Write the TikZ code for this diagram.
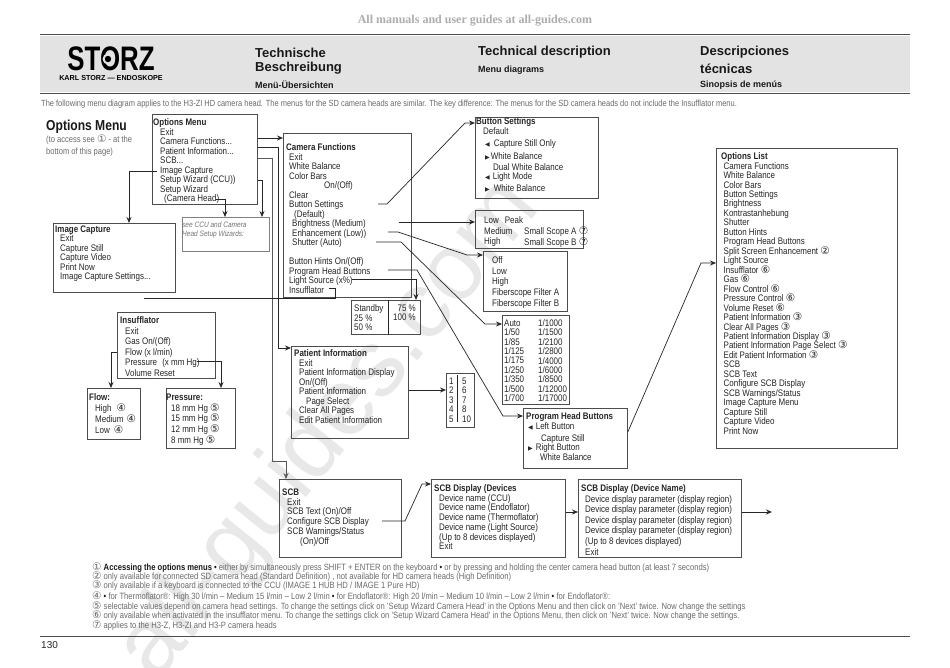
\documentclass[tikz,border=0pt]{standalone}
\usepackage{fontspec}
\setmainfont[FakeStretch=0.84]{Liberation Sans}
\newfontfamily\headfont{Liberation Sans}
\newfontfamily\topfont{Liberation Serif}
\newfontfamily\symfont{DejaVu Sans}
\usetikzlibrary{arrows.meta}
\newcommand{\menufont}{\fontsize{9.5}{9.5}\selectfont}
\newcommand{\cn}[1]{{\symfont\fontsize{10.5}{9.5}\selectfont #1}}
\newcommand{\tril}{{\symfont\fontsize{6}{6}\selectfont ◀}}
\newcommand{\trir}{{\symfont\fontsize{6}{6}\selectfont ▶}}
\tikzset{
	menubox/.style={draw=black!70, line width=0.8pt, anchor=north west, inner sep=0pt},
	menutext/.style={anchor=north west, align=left, inner sep=0pt, yshift=-1.5pt, font=\menufont, text=black!85, execute at begin node={\lineskiplimit=-100pt}},
	notetext/.style={anchor=west, inner sep=0pt, font=\fontsize{9.1}{9.1}\selectfont, text=black!58},
	conn/.style={draw=black!85, line width=0.7pt, -{Stealth[length=6pt,width=5pt]}},
	plainconn/.style={draw=black!85, line width=0.7pt},
	headtext/.style={anchor=west, inner sep=0pt, text=black!90, font=\headfont\bfseries\fontsize{13}{13}\selectfont},
	subtext/.style={anchor=west, inner sep=0pt, text=black!90, font=\headfont\bfseries\fontsize{9}{9}\selectfont},
}
\begin{document}
\begin{tikzpicture}[x=1pt, y=-1pt]
	\useasboundingbox (0,0) rectangle (950,667);
	\fill[white] (0,0) rectangle (950,667);
	\node[rotate=51, text=black!9, font=\headfont\fontsize{95}{95}\selectfont] (watermark) at (330,430) {all-guides.com};
	\node[anchor=center, text=black!32, font=\topfont\bfseries\fontsize{12}{12}\selectfont] (toptext) at (475,20.5) {All manuals and user guides at all-guides.com};
	% header
	\fill[black!11] (40,36) rectangle (910,92);
	\draw[black!70, line width=1pt] (40,34) -- (910,34);
	\draw[black!70, line width=1pt] (40,93) -- (910,93);
	\draw[black!70, line width=1pt] (40,636) -- (910,636);
	\node[anchor=center, inner sep=0pt, font=\headfont\bfseries\fontsize{34}{34}\selectfont] (logo) at (111,59) {\scalebox{0.76}[1]{STORZ}};
	\fill[black!11] (108,59) circle (5.5);
	\fill[black] (108,59) circle (3.2);
	\node[anchor=center, inner sep=0pt, font=\headfont\bfseries\fontsize{7.2}{7.2}\selectfont] (logotext) at (111,78) {KARL STORZ — ENDOSKOPE};
	\node[headtext] (tecde) at (255,52.5) {Technische};
	\node[headtext] (tecde2) at (255,68.5) {Beschreibung};
	\node[subtext] (subde) at (255,85) {Menü-Übersichten};
	\node[headtext] (tecen) at (478,52.5) {Technical description};
	\node[subtext] (suben) at (478,70) {Menu diagrams};
	\node[headtext] (teces) at (700,52.5) {Descripciones};
	\node[headtext] (teces2) at (700,68.5) {técnicas};
	\node[subtext] (subes) at (700,85) {Sinopsis de menús};
	\node[notetext, font=\fontsize{8.9}{8.9}\selectfont] (intro) at (41,104) {The following menu diagram applies to the H3-ZI HD camera head. The menus for the SD camera heads are similar. The key difference: The menus for the SD camera heads do not include the Insufflator menu.};
	\node[anchor=west, inner sep=0pt, font=\bfseries\fontsize{14.4}{14.4}\selectfont, text=black!90] (title) at (46,127) {Options Menu};
	\node[notetext, align=left, anchor=north west, font=\fontsize{9}{11.7}\selectfont] (titlenote) at (46,135) {(to access see \cn{①} - at the\\bottom of this page)};
	% boxes
	\node[menubox, minimum width=105pt, minimum height=90pt] (optmenu) at (152,114) {};
	\node[menubox, minimum width=128pt, minimum height=164pt] (camfunc) at (283,133) {};
	\node[menubox, minimum width=123pt, minimum height=81pt] (btnset) at (475,117) {};
	\node[menubox, minimum width=108pt, minimum height=38pt] (bright) at (475,210) {};
	\node[menubox, minimum width=84pt, minimum height=60pt] (enhance) at (483,251) {};
	\node[menubox, minimum width=67pt, minimum height=89pt] (shutter) at (502,315) {};
	\node[menubox, minimum width=69pt, minimum height=34pt] (light) at (351,300) {};
	\node[menubox, minimum width=117pt, minimum height=92pt] (patient) at (291,346) {};
	\node[menubox, minimum width=28pt, minimum height=54pt] (pages) at (446,373) {};
	\node[menubox, minimum width=104pt, minimum height=60pt] (proghead) at (523,408) {};
	\node[menubox, minimum width=181pt, minimum height=300pt] (optlist) at (716,148) {};
	\node[menubox, minimum width=122pt, minimum height=69pt] (imgcap) at (53,223) {};
	\node[menubox, draw=black!50, minimum width=87pt, minimum height=34pt] (wizard) at (182,217) {};
	\node[menubox, minimum width=98pt, minimum height=66pt] (insuf) at (117,312) {};
	\node[menubox, minimum width=53pt, minimum height=51pt] (flow) at (87,388) {};
	\node[menubox, minimum width=69pt, minimum height=60pt] (press) at (166,388) {};
	\node[menubox, minimum width=122pt, minimum height=78pt] (scb) at (279,479) {};
	\node[menubox, minimum width=134pt, minimum height=78pt] (scbdev) at (431,479) {};
	\node[menubox, minimum width=163pt, minimum height=78pt] (scbname) at (578,479) {};
	\draw[plainconn] (light.north -| 388,300) -- (light.south -| 388,334);
	\draw[plainconn] (457,375) -- (457,422);
	% box texts
	\node[menutext] (optmenutxt) at (153,117) {\textbf{Options Menu}\\
		\hspace*{7pt}Exit\\
		\hspace*{7pt}Camera Functions...\\
		\hspace*{7pt}Patient Information...\\
		\hspace*{7pt}SCB...\\
		\hspace*{7pt}Image Capture\\
		\hspace*{7pt}Setup Wizard (CCU))\\
		\hspace*{7pt}Setup Wizard\\
		\hspace*{11pt}(Camera Head)};
	\node[menutext] (camfunctxt) at (286,142) {\textbf{Camera Functions}\\
		\hspace*{3pt}Exit\\
		\hspace*{3pt}White Balance\\
		\hspace*{3pt}Color Bars\\
		\hspace*{38pt}On/(Off)\\
		\hspace*{3pt}Clear\\
		\hspace*{3pt}Button Settings\\
		\hspace*{8pt}(Default)\\
		\hspace*{6pt}Brightness (Medium)\\
		\hspace*{6pt}Enhancement (Low))\\
		\hspace*{6pt}Shutter (Auto)\\[9.5pt]
		\hspace*{3pt}Button Hints On/(Off)\\
		\hspace*{3pt}Program Head Buttons\\
		\hspace*{3pt}Light Source (x\%)\\
		\hspace*{3pt}Insufflator};
	\node[menutext] (btnsettxt) at (476,116) {\textbf{Button Settings}\\[0.5pt]
		\hspace*{7pt}Default\\[2.5pt]
		\hspace*{9pt}\tril\hspace*{4pt}Capture Still Only\\[3.5pt]
		\hspace*{9pt}\trir\hspace*{1pt}White Balance\\[1pt]
		\hspace*{17pt}Dual White Balance\\
		\hspace*{9pt}\tril\hspace*{3pt}Light Mode\\[2pt]
		\hspace*{9pt}\trir\hspace*{4pt}White Balance};
	\node[menutext, font=\fontsize{9.5}{10.5}\selectfont] (brighttxt) at (484,215) {Low\hspace*{6pt}Peak\\Medium\\High};
	\node[menutext, font=\fontsize{9.5}{10.5}\selectfont] (brighttxtb) at (524,225.5) {Small Scope A \cn{⑦}\\Small Scope B \cn{⑦}};
	\node[menutext, font=\fontsize{9.5}{10.7}\selectfont] (enhancetxt) at (492,255) {Off\\Low\\High\\Fiberscope Filter A\\Fiberscope Filter B};
	\node[menutext, font=\fontsize{9.5}{9.4}\selectfont] (shuttertxt) at (504,318) {Auto\\1/50\\1/85\\1/125\\1/175\\1/250\\1/350\\1/500\\1/700};
	\node[menutext, font=\fontsize{9.5}{9.4}\selectfont] (shuttertxtb) at (538,318) {1/1000\\1/1500\\1/2100\\1/2800\\1/4000\\1/6000\\1/8500\\1/12000\\1/17000};
	\node[menutext] (lighttxt) at (354,303) {Standby\\25 \%\\50 \%};
	\node[menutext, align=right, anchor=north east] (lighttxtb) at (416,303) {75 \%\\100 \%};
	\node[menutext] (patienttxt) at (294,348) {\textbf{Patient Information}\\
		\hspace*{5pt}Exit\\
		\hspace*{5pt}Patient Information Display\\
		\hspace*{5pt}On/(Off)\\
		\hspace*{5pt}Patient Information\\
		\hspace*{12pt}Page Select\\
		\hspace*{5pt}Clear All Pages\\
		\hspace*{5pt}Edit Patient Information};
	\node[menutext] (pagestxt) at (449,376) {1\\2\\3\\4\\5};
	\node[menutext] (pagestxtb) at (462,376) {5\\6\\7\\8\\10};
	\node[menutext] (progheadtxt) at (526,411) {\textbf{Program Head Buttons}\\
		\hspace*{2pt}\tril\hspace*{3pt}Left Button\\[2.5pt]
		\hspace*{15pt}Capture Still\\
		\hspace*{2pt}\trir\hspace*{3pt}Right Button\\
		\hspace*{14pt}White Balance};
	\node[menutext, font=\fontsize{9.5}{9.47}\selectfont] (optlisttxt) at (721,151) {\textbf{Options List}\\
		\hspace*{2.5pt}Camera Functions\\
		\hspace*{2.5pt}White Balance\\
		\hspace*{2.5pt}Color Bars\\
		\hspace*{2.5pt}Button Settings\\
		\hspace*{2.5pt}Brightness\\
		\hspace*{2.5pt}Kontrastanhebung\\
		\hspace*{2.5pt}Shutter\\
		\hspace*{2.5pt}Button Hints\\
		\hspace*{2.5pt}Program Head Buttons\\
		\hspace*{2.5pt}Split Screen Enhancement \cn{②}\\
		\hspace*{2.5pt}Light Source\\
		\hspace*{2.5pt}Insufflator \cn{⑥}\\
		\hspace*{2.5pt}Gas \cn{⑥}\\
		\hspace*{2.5pt}Flow Control \cn{⑥}\\
		\hspace*{2.5pt}Pressure Control \cn{⑥}\\
		\hspace*{2.5pt}Volume Reset \cn{⑥}\\
		\hspace*{2.5pt}Patient Information \cn{③}\\
		\hspace*{2.5pt}Clear All Pages \cn{③}\\
		\hspace*{2.5pt}Patient Information Display \cn{③}\\
		\hspace*{2.5pt}Patient Information Page Select \cn{③}\\
		\hspace*{2.5pt}Edit Patient Information \cn{③}\\
		\hspace*{2.5pt}SCB\\
		\hspace*{2.5pt}SCB Text\\
		\hspace*{2.5pt}Configure SCB Display\\
		\hspace*{2.5pt}SCB Warnings/Status\\
		\hspace*{2.5pt}Image Capture Menu\\
		\hspace*{2.5pt}Capture Still\\
		\hspace*{2.5pt}Capture Video\\
		\hspace*{2.5pt}Print Now};
	\node[menutext] (imgcaptxt) at (55,224) {\textbf{Image Capture}\\
		\hspace*{5pt}Exit\\
		\hspace*{5pt}Capture Still\\
		\hspace*{5pt}Capture Video\\
		\hspace*{5pt}Print Now\\
		\hspace*{5pt}Image Capture Settings...};
	\node[menutext, font=\itshape\fontsize{7.8}{9.6}\selectfont, text=black!55] (wizardtxt) at (182,220) {see CCU and Camera\\Head Setup Wizards:};
	\node[menutext, font=\fontsize{9.5}{10.5}\selectfont] (insuftxt) at (120,315) {\textbf{Insufflator}\\
		\hspace*{5pt}Exit\\
		\hspace*{5pt}Gas On/(Off)\\
		\hspace*{5pt}Flow (x l/min)\\
		\hspace*{5pt}Pressure\hspace*{3pt} (x mm Hg)\\
		\hspace*{5pt}Volume Reset};
	\node[menutext, font=\fontsize{9.5}{11}\selectfont] (flowtxt) at (89,392) {\textbf{Flow:}\\
		\hspace*{6pt}High\hspace*{5pt}\cn{④}\\
		\hspace*{6pt}Medium\hspace*{3pt}\cn{④}\\
		\hspace*{6pt}Low\hspace*{4pt}\cn{④}};
	\node[menutext, font=\fontsize{9.5}{10.8}\selectfont] (presstxt) at (166,392) {\textbf{Pressure:}\\
		\hspace*{5pt}18 mm Hg \cn{⑤}\\
		\hspace*{5pt}15 mm Hg \cn{⑤}\\
		\hspace*{5pt}12 mm Hg \cn{⑤}\\
		\hspace*{5pt}8 mm Hg \cn{⑤}};
	\node[menutext, font=\fontsize{9.5}{9.8}\selectfont] (scbtxt) at (282,487) {\textbf{SCB}\\
		\hspace*{5pt}Exit\\
		\hspace*{5pt}SCB Text (On)/Off\\
		\hspace*{5pt}Configure SCB Display\\
		\hspace*{5pt}SCB Warnings/Status\\
		\hspace*{18pt}(On)/Off};
	\node[menutext, font=\fontsize{9.5}{9.7}\selectfont] (scbdevtxt) at (434,483) {\textbf{SCB Display (Devices}\\
		\hspace*{5pt}Device name (CCU)\\
		\hspace*{5pt}Device name (Endoflator)\\
		\hspace*{5pt}Device name (Thermoflator)\\
		\hspace*{5pt}Device name (Light Source)\\
		\hspace*{5pt}(Up to 8 devices displayed)\\
		\hspace*{5pt}Exit};
	\node[menutext, font=\fontsize{9.5}{10.6}\selectfont] (scbnametxt) at (581,483) {\textbf{SCB Display (Device Name)}\\
		\hspace*{4pt}Device display parameter (display region)\\
		\hspace*{4pt}Device display parameter (display region)\\
		\hspace*{4pt}Device display parameter (display region)\\
		\hspace*{4pt}Device display parameter (display region)\\
		\hspace*{4pt}(Up to 8 devices displayed)\\
		\hspace*{4pt}Exit};
	% free ends
	\coordinate (capline) at (157,171);
	\coordinate (headline) at (216,199);
	\coordinate (btnline) at (378,204);
	\coordinate (brightline) at (399,222);
	\coordinate (enhline) at (388,232);
	\coordinate (shutline) at (376,242);
	\coordinate (progline) at (388,270);
	\coordinate (lightline) at (352,279);
	\coordinate (insufline) at (329,288);
	\coordinate (insufend) at (144,298.5);
	\coordinate (flowline) at (117,352);
	\coordinate (pressline) at (197,361);
	\coordinate (scbline) at (382,521);
	\coordinate (scbout) at (772,512);
	% connectors
	\draw[conn] (optmenu.east |- 0,138) -- (camfunc.west |- 0,138);
	\draw[conn] (optmenu.east |- 0,147) -- (278,147) -- (278,348) -- (patient.west |- 0,348);
	\draw[conn, draw=black!65] (optmenu.east |- 0,158) -- (272,158) -- (272,461) -- (286,461) -- (scb.north -| 286,479);
	\draw[conn] (capline) -- (129,171) -- (imgcap.north -| 129,223);
	\draw[conn] (optmenu.east |- 0,180) -- (262,180) -- (wizard.north -| 262,217);
	\draw[conn] (headline) -- (225,199) -- (wizard.north -| 225,217);
	\draw[conn] (btnline) -- (387,204) -- (465,123) -- (btnset.west |- 0,123);
	\draw[conn] (brightline) -- (bright.west |- 0,222);
	\draw[conn] (enhline) -- (398,232) -- (467,255) -- (enhance.west |- 0,255);
	\draw[conn] (shutline) -- (401,242) -- (485,324) -- (shutter.west |- 0,324);
	\draw[conn] (progline) -- (417,270) -- (503,416) -- (proghead.west |- 0,416);
	\draw[conn] (lightline) -- (416,279) -- (light.north -| 416,300);
	\draw[plainconn] (insufline) -- (335,288) -- (335,298.5) -- (insufend);
	\draw[conn] (flowline) -- (111,352) -- (flow.north -| 111,388);
	\draw[conn] (pressline) -- (221,361) -- (press.north -| 221,388);
	\draw[conn] (patient.east |- 0,390) -- (pages.west |- 0,390);
	\draw[conn] (proghead.east |- 0,432) -- (701,263) -- (optlist.west |- 0,263);
	\draw[conn] (scbline) -- (405,521) -- (422,484) -- (scbdev.west |- 0,484);
	\draw[conn] (scbdev.east |- 0,512) -- (scbname.west |- 0,512);
	\draw[conn] (scbname.east |- 0,512) -- (scbout);
	% footnotes
	\node[notetext] (note1) at (92,568) {\cn{①} \textcolor{black!90}{\textbf{Accessing the options menus} •} either by simultaneously press SHIFT + ENTER on the keyboard \textcolor{black!90}{•} or by pressing and holding the center camera head button (at least 7 seconds)};
	\node[notetext] (note2) at (92,577) {\cn{②} only available for connected SD camera head (Standard Definition) , not available for HD camera heads (High Definition)};
	\node[notetext] (note3) at (92,586) {\cn{③} only available if a keyboard is connected to the CCU (IMAGE 1 HUB HD / IMAGE 1 Pure HD)};
	\node[notetext] (note4) at (92,597) {\cn{④} \textcolor{black!90}{•} for Thermoflator®: High 30 l/min -- Medium 15 l/min -- Low 2 l/min \textcolor{black!90}{•} for Endoflator®: High 20 l/min -- Medium 10 l/min -- Low 2 l/min \textcolor{black!90}{•} for Endoflator®:};
	\node[notetext] (note5) at (92,607) {\cn{⑤} selectable values depend on camera head settings. To change the settings click on 'Setup Wizard Camera Head' in the Options Menu and then click on 'Next' twice. Now change the settings};
	\node[notetext] (note6) at (92,616) {\cn{⑥} only available when activated in the insufflator menu. To change the settings click on 'Setup Wizard Camera Head' in the Options Menu, then click on 'Next' twice. Now change the settings.};
	\node[notetext] (note7) at (92,626) {\cn{⑦} applies to the H3-Z, H3-ZI and H3-P camera heads};
	\node[anchor=west, inner sep=0pt, font=\headfont\fontsize{10}{10}\selectfont, text=black!85] (pagenum) at (41,645) {130};
\end{tikzpicture}
\end{document}
